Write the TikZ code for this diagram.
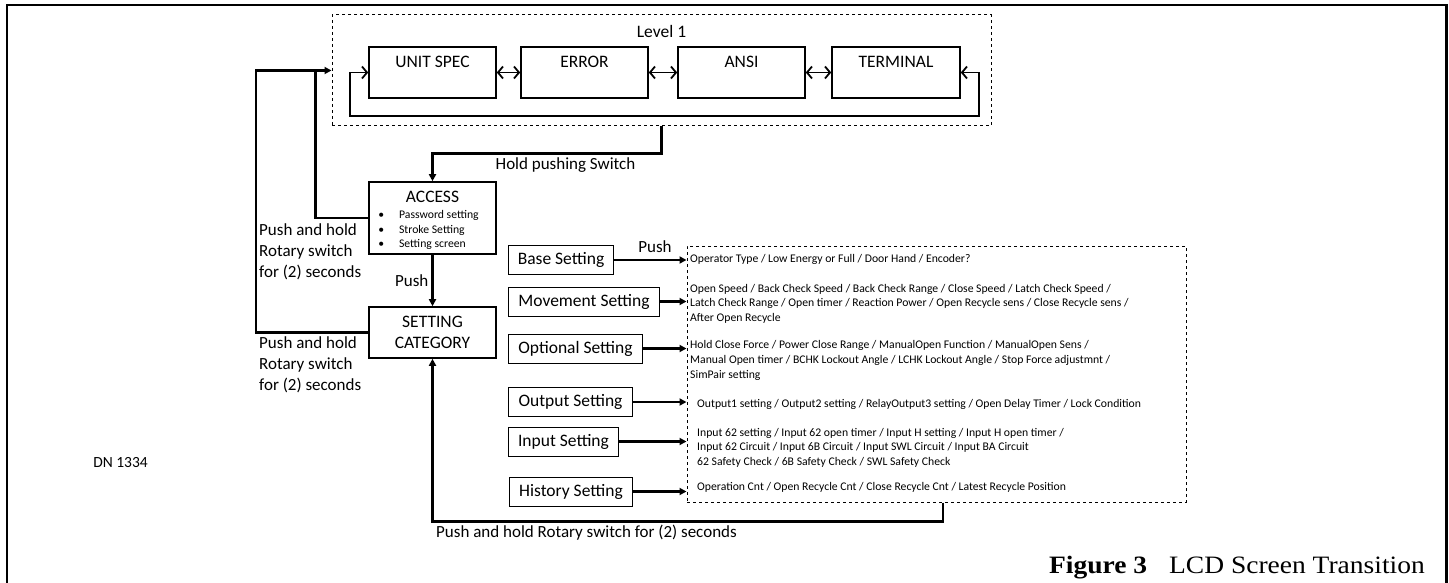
\documentclass[tikz,border=0pt]{standalone}
\usepackage{fontspec}
\setmainfont{Carlito}
\newfontfamily\captionserif[FakeStretch=1.1]{Liberation Serif}
\usetikzlibrary{arrows.meta, positioning, calc}

\begin{document}
\begin{tikzpicture}[x=1pt, y=-1pt,
    every node/.style={font=\fontsize{17}{21}\selectfont, inner sep=0pt},
    lvlbox/.style={draw, line width=1.6pt, minimum width=127pt, minimum height=51pt},
    lvltext/.style={anchor=center, yshift=-16pt, font=\fontsize{17.5}{21}\selectfont},
    mainbox/.style={draw, line width=1.6pt, minimum width=127pt, align=center},
    setbox/.style={draw, line width=1pt, minimum height=29pt, anchor=west, font=\fontsize{17.5}{21}\selectfont},
    info/.style={anchor=west, align=left, font=\fontsize{11.7}{14.6}\selectfont},
    flow/.style={line width=2.2pt, -{Triangle[length=7pt, width=7pt]}},
    swap/.style={line width=1.8pt, {Straight Barb[length=5pt, width=12pt, line width=1.8pt]}-{Straight Barb[length=5pt, width=12pt, line width=1.8pt]}}]
  \useasboundingbox (0,0) rectangle (1449,583);
  % page frame
  \draw[line width=2.5pt] (7,583) -- (7,5) -- (1446.5,5) -- (1446.5,583);

  % level 1 screens
  \node[draw, dashed, line width=1pt, minimum width=659pt, minimum height=111pt,
        label={[anchor=center, yshift=-17pt, font=\fontsize{17.5}{21}\selectfont]north:Level 1}] (level) at (661.5,70.5) {};
  \node[lvlbox, label={[lvltext]north:UNIT SPEC}] (unit) at (432.5,72.5) {};
  \node[lvlbox, label={[lvltext]north:ERROR}] (error) at (584.5,72.5) {};
  \node[lvlbox, label={[lvltext]north:ANSI}] (ansi) at (741.5,72.5) {};
  \node[lvlbox, minimum width=128pt, label={[lvltext]north:TERMINAL}] (terminal) at (896,72.5) {};
  \draw[swap] (unit) -- (error);
  \draw[swap] (error) -- (ansi);
  \draw[swap] (ansi) -- (terminal);
  \draw[swap] (terminal.east) -- ++(18,0) -- ++(0,43.5) -| ($(unit.west)+(-18,0)$) -- (unit.west);

  % access and category
  \node[mainbox, minimum height=72pt,
        label={[anchor=center, yshift=-16pt, font=\fontsize{17.5}{21}\selectfont]north:ACCESS},
        label={[anchor=north, yshift=-27pt, font=\fontsize{11.7}{14.5}\selectfont]north:{\begin{tabular}{@{}l@{\hspace{15pt}}l@{\hspace{8pt}}}
      \textbullet & Password setting\\ \textbullet & Stroke Setting\\ \textbullet & Setting screen
    \end{tabular}}}] (access) at (432.5,218) {};
  \node[mainbox, minimum height=51pt, font=\fontsize{17.5}{21}\selectfont] (setcat) at (432.5,332.5) {SETTING\\CATEGORY};
  \node (holdlbl) at (565.5,165) {Hold pushing Switch};
  \draw[flow] (level.south) -- ++(0,27) -| (access.north);
  \draw[flow] (access) -- node[left=3pt] (pushlbl) {Push} (setcat);
  \draw[flow] (setcat.west) -- ++(-112,0) |- (level.west);
  \draw[line width=2.2pt] (access.west) -| ($(level.west)+(-16,0)$);
  \node[anchor=west, align=left] (backone) at (259,251.5) {Push and hold\\Rotary switch\\for (2) seconds};
  \node[anchor=west, align=left] (backtwo) at (259,365) {Push and hold\\Rotary switch\\for (2) seconds};

  % setting categories
  \node[draw, dashed, line width=1pt, minimum width=499pt, minimum height=256pt] (detail) at (936.5,374) {};
  \node[setbox, minimum width=105pt] (base) at (508,260) {Base Setting};
  \node[setbox, minimum width=151pt] (move) at (508,301.5) {Movement Setting};
  \node[setbox, minimum width=134pt] (option) at (508,348.5) {Optional Setting};
  \node[setbox, minimum width=124pt] (output) at (508,402) {Output Setting};
  \node[setbox, minimum width=110pt] (input) at (508,441.5) {Input Setting};
  \node[setbox, minimum width=123pt] (history) at (509,491.5) {History Setting};
  \foreach \s in {base, move, option, output, input, history}
    \draw[flow] (\s.east) -- (\s.east -| detail.west);
  \node (pushtop) at (655,247) {Push};

  \node[info] (baseinfo) at (690,259) {Operator Type / Low Energy or Full / Door Hand / Encoder?};
  \node[info] (moveinfo) at (690,303.5) {Open Speed / Back Check Speed / Back Check Range / Close Speed / Latch Check Speed /\\Latch Check Range / Open timer / Reaction Power / Open Recycle sens / Close Recycle sens /\\After Open Recycle};
  \node[info] (optioninfo) at (690,360.5) {Hold Close Force / Power Close Range / ManualOpen Function / ManualOpen Sens /\\Manual Open timer / BCHK Lockout Angle / LCHK Lockout Angle / Stop Force adjustmnt /\\SimPair setting};
  \node[info] (outputinfo) at (697,404) {Output1 setting / Output2 setting / RelayOutput3 setting / Open Delay Timer / Lock Condition};
  \node[info] (inputinfo) at (697,447.5) {Input 62 setting / Input 62 open timer / Input H setting / Input H open timer /\\Input 62 Circuit / Input 6B Circuit / Input SWL Circuit / Input BA Circuit\\62 Safety Check / 6B Safety Check / SWL Safety Check};
  \node[info] (historyinfo) at (697,487) {Operation Cnt / Open Recycle Cnt / Close Recycle Cnt / Latest Recycle Position};

  \draw[flow] ([xshift=6.5pt]detail.south) -- ++(0,19) -| (setcat.south);
  \node[anchor=west] (backthree) at (436,533) {Push and hold Rotary switch for (2) seconds};

  \node[font=\fontsize{15.5}{18}\selectfont] (dn) at (120.5,463) {DN 1334};
  \node[anchor=base east, font=\captionserif\fontsize{25}{30}\selectfont] (caption) at (1425,573) {\textbf{Figure 3}\hspace{22pt}LCD Screen Transition};
\end{tikzpicture}
\end{document}
